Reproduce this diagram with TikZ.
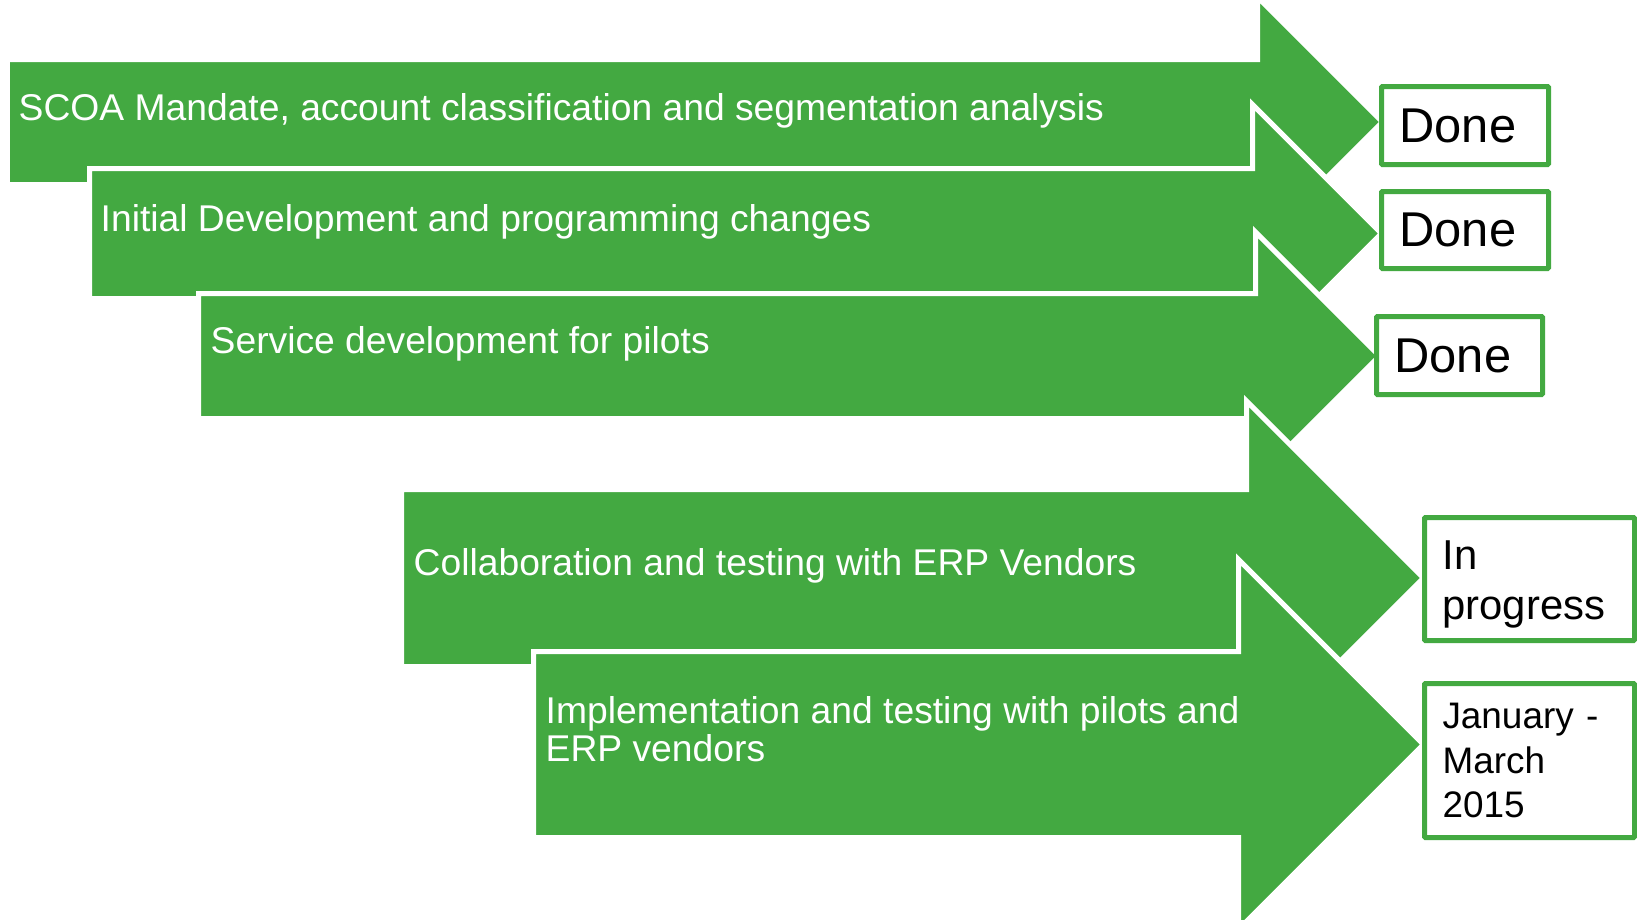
\documentclass[tikz,border=0pt]{standalone}
\usepackage{fontspec}
\setmainfont{Liberation Sans}
\definecolor{stepgreen}{RGB}{67,169,65}

\begin{document}
\begin{tikzpicture}[x=0.1mm,y=-0.1mm,
  arrowshape/.style={fill=stepgreen,draw=white,line width=0.5mm,line join=miter},
  steplabel/.style={anchor=base west,inner sep=0pt,text=white,font=\fontsize{10.6}{10.8}\selectfont},
  statusbox/.style={draw=stepgreen,line width=0.5mm,fill=white,rounded corners=0.1mm,align=left,inner xsep=1.8mm,inner ysep=0pt,outer sep=0pt}]
\useasboundingbox (0,0) rectangle (1637,920);

\foreach \l/\t/\b/\n/\h in {7.5/59.5/184.5/1257.5/125,89.5/168.5/298.5/1252.5/129,
  198.5/293.5/418.5/1255.5/124,401.5/489.5/666.5/1246.5/177,533.5/651.5/837.5/1238.5/185}
{
\draw [arrowshape] (\l,\t) -- (\n,\t) -- (\n,{(\t+\b)/2-\h}) -- ({\n+\h},{(\t+\b)/2})
  -- (\n,{(\t+\b)/2+\h}) -- (\n,\b) -- (\l,\b) -- cycle;
}

\node (a1) [steplabel] at (18,120) {SCOA Mandate, account classification and segmentation analysis};
\node (a2) [steplabel] at (100,231) {Initial Development and programming changes};
\node (a3) [steplabel] at (210,353) {Service development for pilots};
\node (a4) [steplabel] at (413,575) {Collaboration and testing with ERP Vendors};
\node (a5) [steplabel,align=left] at (545,761) {Implementation and testing with pilots and\\ERP vendors};

\node (s1) [statusbox,minimum width=16.7mm,minimum height=7.8mm,text width=13.1mm,
  font=\fontsize{13.9}{16}\selectfont] at (1465,125.5) {Done};
\node (s2) [statusbox,minimum width=16.7mm,minimum height=7.7mm,text width=13.1mm,
  font=\fontsize{13.9}{16}\selectfont] at (1465,230) {Done};
\node (s3) [statusbox,minimum width=16.6mm,minimum height=7.8mm,text width=13.0mm,
  font=\fontsize{13.9}{16}\selectfont] at (1459.5,355.5) {Done};
\node (s4) [statusbox,minimum width=21mm,minimum height=12.3mm,text width=17.4mm,
  font=\fontsize{11.9}{14.2}\selectfont] at (1529.5,579) {\rule{0pt}{4mm}In\\progress};
\node (s5) [statusbox,minimum width=21mm,minimum height=15.4mm,text width=17.4mm,
  font=\fontsize{10.5}{12.7}\selectfont] at (1529.5,760.5) {January -\\March\\2015};
\end{tikzpicture}
\end{document}
